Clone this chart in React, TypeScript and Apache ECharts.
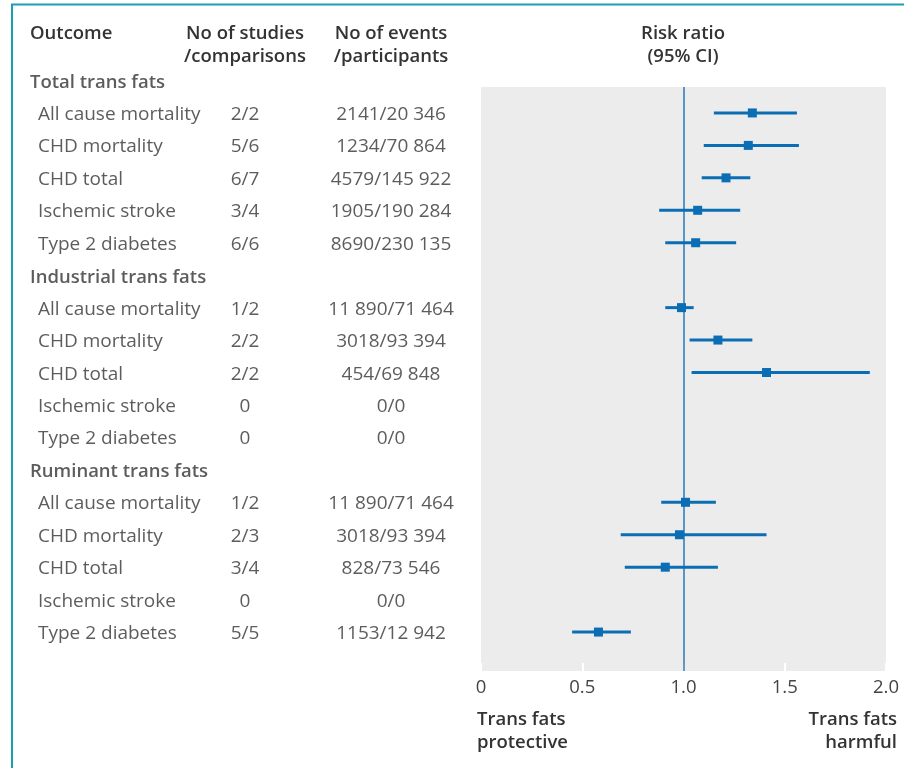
import React, { useEffect, useRef } from "react";
import * as echarts from "echarts";

const groups = ["Total trans fats", "Industrial trans fats", "Ruminant trans fats"];
const outcomes = ["All cause mortality", "CHD mortality", "CHD total", "Ischemic stroke", "Type 2 diabetes"];
const studies = [
  ["2/2", "5/6", "6/7", "3/4", "6/6"],
  ["1/2", "2/2", "2/2", "0", "0"],
  ["1/2", "2/3", "3/4", "0", "5/5"],
];
const events = [
  ["2141/20 346", "1234/70 864", "4579/145 922", "1905/190 284", "8690/230 135"],
  ["11 890/71 464", "3018/93 394", "454/69 848", "0/0", "0/0"],
  ["11 890/71 464", "3018/93 394", "828/73 546", "0/0", "1153/12 942"],
];
const riskRatio = [
  [1.34, 1.32, 1.21, 1.07, 1.06],
  [0.99, 1.17, 1.41, null, null],
  [1.01, 0.98, 0.91, null, 0.58],
];
const ciLow = [
  [1.15, 1.1, 1.09, 0.88, 0.91],
  [0.91, 1.03, 1.04, null, null],
  [0.89, 0.69, 0.71, null, 0.45],
];
const ciHigh = [
  [1.56, 1.57, 1.33, 1.28, 1.26],
  [1.05, 1.34, 1.92, null, null],
  [1.16, 1.41, 1.17, null, 0.74],
];
const xTicks = [0, 0.5, 1, 1.5, 2];

const FONT = "Open Sans";
const TXT = "#333333";
const BLUE = "#0b6eb4";

export default function App() {
  const ref = useRef<HTMLDivElement>(null);
  useEffect(() => {
    if (!ref.current) return;
    const chart = echarts.init(ref.current, undefined, { renderer: "svg" });

    const headerData: any[] = [];
    const outcomeData: any[] = [];
    const studyData: any[] = [];
    const eventData: any[] = [];
    const forestData: any[] = [];
    groups.forEach((g, gi) => {
      const base = gi * 6;
      headerData.push([30, base, g]);
      outcomes.forEach((o, oi) => {
        const row = base + 1 + oi;
        outcomeData.push([38, row, o]);
        studyData.push([245, row, studies[gi][oi]]);
        eventData.push([391, row, events[gi][oi]]);
        const r = riskRatio[gi][oi];
        if (r != null) forestData.push([r, ciLow[gi][oi], ciHigh[gi][oi], row]);
      });
    });

    const textSeries = (data: any[], align: string, bold: boolean) => ({
      type: "scatter",
      xAxisIndex: 1,
      yAxisIndex: 1,
      symbolSize: 0,
      clip: false,
      silent: true,
      data,
      label: {
        show: true,
        position: "inside",
        align,
        verticalAlign: "middle",
        fontFamily: FONT,
        fontSize: bold ? 18.5 : 19,
        fontWeight: bold ? 600 : "normal",
        color: TXT,
        formatter: (p: any) => p.data[2],
      },
    });

    const headText = (text: string, x: number, y: number, align: string) => ({
      type: "text",
      x,
      y,
      style: {
        text,
        align,
        verticalAlign: "middle",
        fontFamily: FONT,
        fontSize: 18.5,
        lineHeight: 23,
        fontWeight: 600,
        fill: TXT,
      },
    });

    chart.setOption({
      animation: false,
      grid: [
        { left: 481, top: 87, width: 405, height: 584, show: true, backgroundColor: "#ececec", borderWidth: 0 },
        { left: 0, top: 87, width: 470, height: 584, show: false },
      ],
      xAxis: [
        {
          gridIndex: 0,
          type: "value",
          min: 0,
          max: 2,
          interval: 0.5,
          axisLine: { show: false },
          splitLine: { show: false },
          axisTick: { show: true, inside: true, length: 8, lineStyle: { color: "#ffffff", width: 2 } },
          axisLabel: {
            fontFamily: FONT,
            fontSize: 18.5,
            color: "#444",
            margin: 5,
            formatter: (v: number) => (xTicks.includes(v) ? (v === 0 ? "0" : v.toFixed(1)) : ""),
          },
        },
        { gridIndex: 1, type: "value", min: 0, max: 470, show: false },
      ],
      yAxis: [
        { gridIndex: 0, type: "value", inverse: true, min: 0.2, max: 18.2, show: false },
        { gridIndex: 1, type: "value", inverse: true, min: 0.2, max: 18.2, show: false },
      ],
      graphic: [
        {
          type: "polyline",
          shape: { points: [[906, 4.5], [12, 4.5], [12, 770]] },
          style: { stroke: "#1a9fb3", lineWidth: 2, fill: "none" },
        },
        headText("Outcome", 30, 31, "left"),
        headText("No of studies\n/comparisons", 245, 42.5, "center"),
        headText("No of events\n/participants", 391, 42.5, "center"),
        headText("Risk ratio\n(95% CI)", 683, 42.5, "center"),
        headText("Trans fats\nprotective", 477, 728.5, "left"),
        headText("Trans fats\nharmful", 897, 728.5, "right"),
      ],
      series: [
        {
          type: "line",
          xAxisIndex: 0,
          yAxisIndex: 0,
          data: [],
          markLine: {
            silent: true,
            symbol: "none",
            label: { show: false },
            lineStyle: { color: "#2a78b8", width: 1.5, type: "solid" },
            data: [{ xAxis: 1 }],
          },
        },
        {
          type: "custom",
          xAxisIndex: 0,
          yAxisIndex: 0,
          z: 5,
          data: forestData,
          encode: { x: [0, 1, 2], y: 3 },
          renderItem: (params: any, api: any) => {
            const row = api.value(3);
            const c = api.coord([api.value(0), row]);
            const p = api.coord([api.value(1), row]);
            const q = api.coord([api.value(2), row]);
            return {
              type: "group",
              children: [
                {
                  type: "line",
                  shape: { x1: p[0], y1: p[1], x2: q[0], y2: q[1] },
                  style: { stroke: BLUE, lineWidth: 3 },
                },
                {
                  type: "rect",
                  shape: { x: c[0] - 4.5, y: c[1] - 4.5, width: 9, height: 9 },
                  style: { fill: BLUE },
                },
              ],
            };
          },
        },
        textSeries(headerData, "left", true),
        textSeries(outcomeData, "left", false),
        textSeries(studyData, "center", false),
        textSeries(eventData, "center", false),
      ],
    });
    return () => chart.dispose();
  }, []);
  return <div ref={ref} style={{ position: "fixed", left: 0, top: 0, width: 904, height: 768 }} />;
}
